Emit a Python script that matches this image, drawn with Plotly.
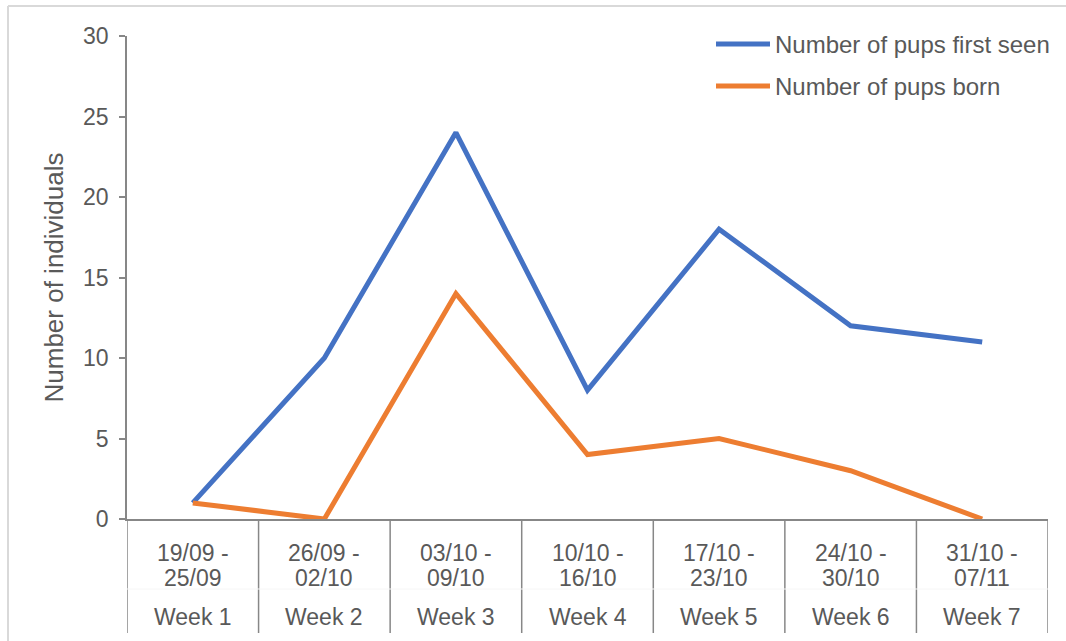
import plotly.graph_objects as go

dates = ["19/09 -<br>25/09", "26/09 -<br>02/10", "03/10 -<br>09/10", "10/10 -<br>16/10",
         "17/10 -<br>23/10", "24/10 -<br>30/10", "31/10 -<br>07/11"]
weeks = ["Week 1", "Week 2", "Week 3", "Week 4", "Week 5", "Week 6", "Week 7"]
first_seen = [1, 10, 24, 8, 18, 12, 11]
born = [1, 0, 14, 4, 5, 3, 0]
series_names = ["Number of pups first seen", "Number of pups born"]
colors = ["#4472C4", "#ED7D31"]
y_ticks = [0, 5, 10, 15, 20, 25, 30]

FONT = "Liberation Sans, Arial, sans-serif"
TXT = "#595959"
AX = "#878787"
FS = 23

xs = [i + 0.5 for i in range(len(weeks))]
fig = go.Figure()
for name, vals, c in zip(series_names, [first_seen, born], colors):
    fig.add_trace(go.Scatter(x=xs, y=vals, mode="lines", name=name,
                             line=dict(color=c, width=5), showlegend=False))

W, H = 1066, 641
L, R, T, B = 127, 18, 36, 122
pw, ph = W - L - R, H - T - B

def px_x(px):
    return (px - L) / pw

def px_y(py):
    return (H - B - py) / ph

shapes = []
annotations = []
# category separators
for i in range(len(weeks) + 1):
    shapes.append(dict(type="line", xref="x", yref="paper", x0=i, x1=i,
                       y0=0, y1=px_y(633), line=dict(color=AX, width=1.5)))
# faint horizontal divider between levels
shapes.append(dict(type="line", xref="x", yref="paper", x0=0, x1=len(weeks),
                   y0=px_y(589), y1=px_y(589), line=dict(color="#F6F6F6", width=1)))
for i, (d, w) in enumerate(zip(dates, weeks)):
    for j, part in enumerate(d.split("<br>")):
        annotations.append(dict(x=i + 0.5, y=px_y(553 + 25 * j), xref="x", yref="paper",
                                text=part, showarrow=False,
                                font=dict(size=FS, color=TXT, family=FONT),
                                xanchor="center", yanchor="middle"))
    annotations.append(dict(x=i + 0.5, y=px_y(617), xref="x", yref="paper", text=w,
                            showarrow=False, font=dict(size=FS, color=TXT, family=FONT),
                            xanchor="center", yanchor="middle"))
# chart border (left & top)
shapes.append(dict(type="line", xref="paper", yref="paper", x0=px_x(8), x1=px_x(8),
                   y0=px_y(6), y1=px_y(660), line=dict(color="#D9D9D9", width=2)))
shapes.append(dict(type="line", xref="paper", yref="paper", x0=px_x(8), x1=px_x(1070),
                   y0=px_y(6), y1=px_y(6), line=dict(color="#D9D9D9", width=2)))
# custom legend
for k, (name, c) in enumerate(zip(series_names, colors)):
    yy = 44 + 42 * k
    shapes.append(dict(type="line", xref="paper", yref="paper", x0=px_x(716), x1=px_x(770),
                       y0=px_y(yy), y1=px_y(yy), line=dict(color=c, width=5)))
    annotations.append(dict(x=px_x(773), y=px_y(yy), xref="paper", yref="paper", text=name,
                            showarrow=False, font=dict(size=24, color=TXT, family=FONT),
                            xanchor="left", yanchor="middle"))

fig.update_layout(
    width=W, height=H,
    margin=dict(l=L, r=R, t=T, b=B),
    paper_bgcolor="white", plot_bgcolor="white",
    shapes=shapes, annotations=annotations,
    font=dict(family=FONT, color=TXT, size=FS),
    xaxis=dict(range=[0, len(weeks)], showgrid=False, zeroline=False, showticklabels=False,
               showline=True, linecolor=AX, linewidth=1.5, ticks=""),
    yaxis=dict(range=[0, 30], tickvals=y_ticks, showgrid=False, zeroline=False,
               showline=True, linecolor=AX, linewidth=1.5, ticks="outside", ticklen=6,
               tickcolor=AX, tickwidth=1.5, ticklabelstandoff=6,
               tickfont=dict(size=FS, color=TXT, family=FONT),
               title=dict(text="Number of individuals", standoff=12,
                          font=dict(size=26, color=TXT, family=FONT))),
)
fig.write_html("out.html")
